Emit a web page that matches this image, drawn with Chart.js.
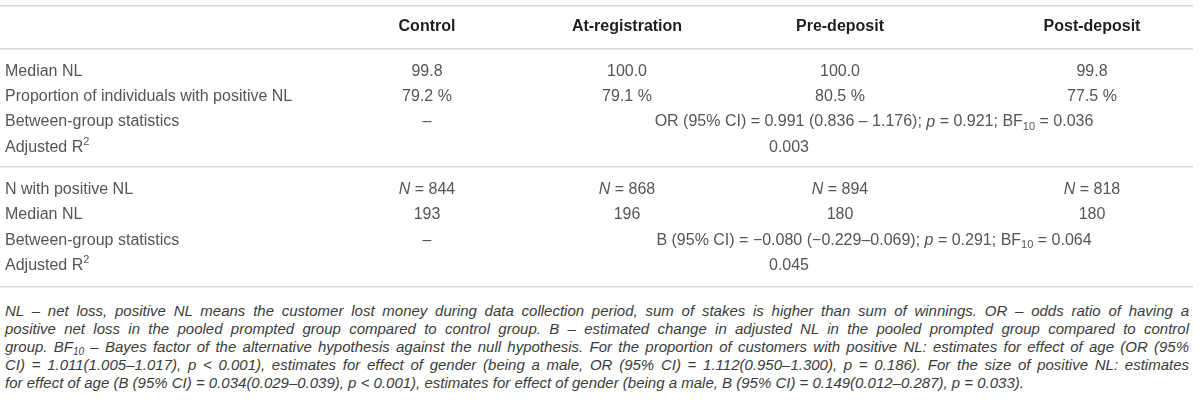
<!DOCTYPE html>
<html>
<head>
<meta charset="utf-8">
<title>Net loss by group</title>
<script src="https://cdn.jsdelivr.net/npm/chart.js@4.4.1/dist/chart.umd.min.js"></script>
<style>
    html, body { margin: 0; padding: 0; background: #fff; }
    #wrap { position: relative; width: 1200px; height: 402px; overflow: hidden; }
    #tableBox { position: absolute; left: 0; top: 0; width: 1200px; height: 292px; }
    #note { position: absolute; left: 5px; top: 302px; width: 1184px;
            font: italic 15px "Liberation Sans", Arial, sans-serif; line-height: 18px; color: #3c3c3c; }
    #note div { white-space: nowrap; }
    #note sub { font-size: 10px; line-height: 0; vertical-align: -3px; }
</style>
</head>
<body>
<div id="wrap">
    <div id="tableBox"><canvas id="myChart"></canvas></div>
    <div id="note">
        <div class="fit">NL – net loss, positive NL means the customer lost money during data collection period, sum of stakes is higher than sum of winnings. OR – odds ratio of having a</div>
        <div class="fit">positive net loss in the pooled prompted group compared to control group. B – estimated change in adjusted NL in the pooled prompted group compared to control</div>
        <div class="fit">group. BF<sub>10</sub> – Bayes factor of the alternative hypothesis against the null hypothesis. For the proportion of customers with positive NL: estimates for effect of age (OR (95%</div>
        <div class="fit">CI) = 1.011(1.005–1.017), p &lt; 0.001), estimates for effect of gender (being a male, OR (95% CI) = 1.112(0.950–1.300), p = 0.186). For the size of positive NL: estimates</div>
        <div>for effect of age (B (95% CI) = 0.034(0.029–0.039), p &lt; 0.001), estimates for effect of gender (being a male, B (95% CI) = 0.149(0.012–0.287), p = 0.033).</div>
    </div>
</div>
<script>
// table values
const groups = ['Control', 'At-registration', 'Pre-deposit', 'Post-deposit'];
const rowsAll = ['Median NL', 'Proportion of individuals with positive NL', 'Between-group statistics', 'Adjusted R'];
const rowsPositive = ['N with positive NL', 'Median NL', 'Between-group statistics', 'Adjusted R'];
const medianNL = [99.8, 100.0, 100.0, 99.8];
const positiveShare = [79.2, 79.1, 80.5, 77.5];
const oddsRatio = [0.991, 0.836, 1.176];   // estimate, lower, upper
const oddsP = 0.921;
const oddsBF = 0.036;
const nPositive = [844, 868, 894, 818];
const medianPositiveNL = [193, 196, 180, 180];
const slopeB = [-0.080, -0.229, 0.069];    // estimate, lower, upper
const slopeP = 0.291;
const slopeBF = 0.064;
const adjR2 = [0.003, 0.045];

// layout (x in canvas px units, y in row units)
const FONT = '"Liberation Sans", Arial, sans-serif';
const labelX = 5;
const colX = [427, 627, 840, 1092];
const spanX = 874;
const r2X = 789;
const rowHeader = -1.734, ruleTop = -2.559, ruleMid = 3.766;
const sectionStart = [0, 4.64];

function fmt(v, d) {
    return (v < 0 ? '\u2212' : '') + Math.abs(v).toFixed(d);
}

function drawRich(ctx, segs, x, y, align, size, weight, color) {
    const fontFor = s => (s[1] === 'i' ? 'italic ' : '') + weight + ' ' +
        ((s[1] === 'sub' || s[1] === 'sup') ? Math.round(size * 0.7) : size) + 'px ' + FONT;
    let w = 0;
    segs.forEach(s => { ctx.font = fontFor(s); w += ctx.measureText(s[0]).width; });
    let cx = align === 'center' ? x - w / 2 : x;
    ctx.fillStyle = color;
    ctx.textAlign = 'left';
    ctx.textBaseline = 'middle';
    segs.forEach(s => {
        ctx.font = fontFor(s);
        let dy = 0;
        if (s[1] === 'sub') dy = size * 0.3;
        if (s[1] === 'sup') dy = -size * 0.35;
        ctx.fillText(s[0], cx, y + dy);
        cx += ctx.measureText(s[0]).width;
    });
}

const tablePlugin = {
    id: 'tableText',
    afterDraw(chart) {
        const { ctx, scales: { x, y } } = chart;
        const body = '#555555', head = '#1e1e1e';
        ctx.save();

        // horizontal rules
        ctx.strokeStyle = '#d6d6d6';
        ctx.lineWidth = 1.5;
        [ruleTop, y.min, ruleMid, y.max].forEach(v => {
            const py = Math.round(y.getPixelForValue(v)) - 0.25;
            ctx.beginPath();
            ctx.moveTo(x.getPixelForValue(0), py);
            ctx.lineTo(x.getPixelForValue(1193), py);
            ctx.stroke();
        });

        // header
        const hy = y.getPixelForValue(rowHeader);
        groups.forEach((g, i) => drawRich(ctx, [[g]], x.getPixelForValue(colX[i]), hy, 'center', 16, 'bold', head));

        // row labels
        [rowsAll, rowsPositive].forEach((rows, s) => {
            rows.forEach((label, r) => {
                const segs = label === 'Adjusted R' ? [[label], ['2', 'sup']] : [[label]];
                drawRich(ctx, segs, x.getPixelForValue(labelX), y.getPixelForValue(sectionStart[s] + r), 'left', 16, 'normal', body);
            });
        });

        const cell = (segs, col, s, r) =>
            drawRich(ctx, segs, x.getPixelForValue(col), y.getPixelForValue(sectionStart[s] + r), 'center', 16, 'normal', body);

        // all customers
        groups.forEach((g, i) => {
            cell([[medianNL[i].toFixed(1)]], colX[i], 0, 0);
            cell([[positiveShare[i].toFixed(1) + ' %']], colX[i], 0, 1);
        });
        cell([['\u2013']], colX[0], 0, 2);
        cell([
            ['OR (95% CI) = ' + fmt(oddsRatio[0], 3) + ' (' + fmt(oddsRatio[1], 3) + ' \u2013 ' + fmt(oddsRatio[2], 3) + '); '],
            ['p', 'i'], [' = ' + oddsP.toFixed(3) + '; BF'], ['10', 'sub'], [' = ' + oddsBF.toFixed(3)]
        ], spanX, 0, 2);
        cell([[adjR2[0].toFixed(3)]], r2X, 0, 3);

        // customers with positive NL
        groups.forEach((g, i) => {
            cell([['N', 'i'], [' = ' + nPositive[i]]], colX[i], 1, 0);
            cell([[String(medianPositiveNL[i])]], colX[i], 1, 1);
        });
        cell([['\u2013']], colX[0], 1, 2);
        cell([
            ['B (95% CI) = ' + fmt(slopeB[0], 3) + ' (' + fmt(slopeB[1], 3) + '\u2013' + fmt(slopeB[2], 3) + '); '],
            ['p', 'i'], [' = ' + slopeP.toFixed(3) + '; BF'], ['10', 'sub'], [' = ' + slopeBF.toFixed(3)]
        ], spanX, 1, 2);
        cell([[adjR2[1].toFixed(3)]], r2X, 1, 3);

        ctx.restore();
    }
};

const ctx = document.getElementById('myChart').getContext('2d');
new Chart(ctx, {
    type: 'scatter',
    data: { datasets: [] },
    options: {
        responsive: true,
        maintainAspectRatio: false,
        animation: false,
        layout: { padding: { left: 0, right: 0, top: 49, bottom: 5 } },
        plugins: { legend: { display: false }, tooltip: { enabled: false } },
        scales: {
            x: { type: 'linear', min: 0, max: 1200, display: false },
            y: { type: 'linear', reverse: true, min: -0.87, max: 8.48, display: false }
        }
    },
    plugins: [tablePlugin]
});

// justify the footnote lines to the full width
document.querySelectorAll('#note div.fit').forEach(line => {
    const span = document.createElement('span');
    while (line.firstChild) span.appendChild(line.firstChild);
    line.appendChild(span);
    const spaces = (span.textContent.match(/ /g) || []).length;
    const gap = 1184 - span.getBoundingClientRect().width;
    line.style.wordSpacing = (gap / spaces) + 'px';
});
</script>
</body>
</html>
